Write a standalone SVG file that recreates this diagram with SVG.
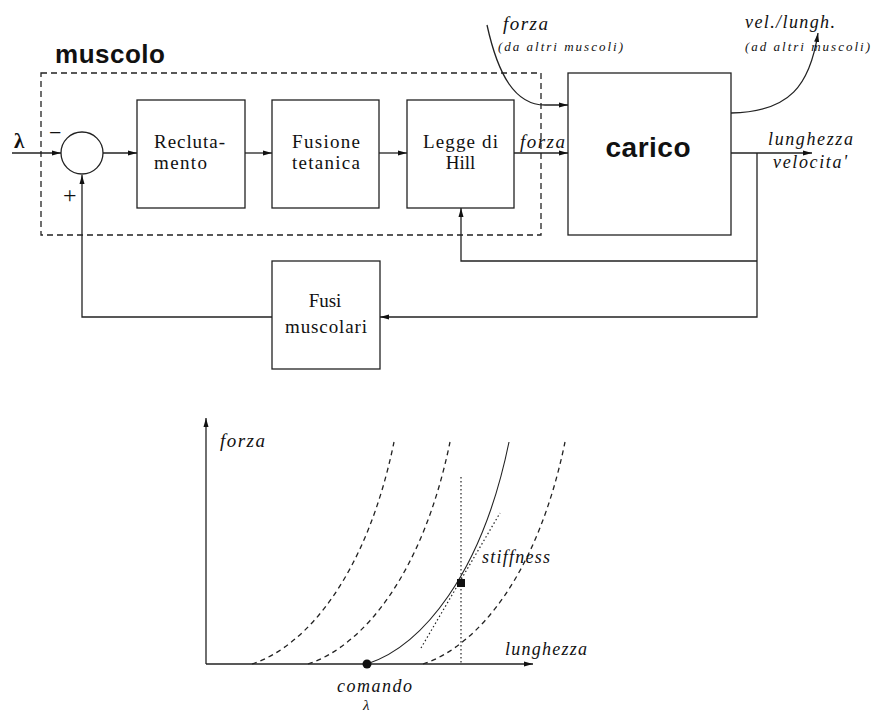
<svg xmlns="http://www.w3.org/2000/svg" width="872" height="715" viewBox="0 0 872 715">
<defs>
<style>
.box{fill:#fff;stroke:#222;stroke-width:1.3}
.ln{fill:none;stroke:#222;stroke-width:1.3}
.dash{fill:none;stroke:#222;stroke-width:1.3;stroke-dasharray:6,4}
.dot{fill:none;stroke:#222;stroke-width:1.2;stroke-dasharray:1.5,2.5}
.lbl{font-family:"Liberation Serif","Times New Roman",serif;font-size:19px;fill:#111}
.it{font-family:"Liberation Serif",serif;font-style:italic;fill:#111}
.bold{font-family:"Liberation Sans",Arial,sans-serif;font-weight:bold;fill:#111}
</style>
<marker id="ah" markerUnits="userSpaceOnUse" markerWidth="10" markerHeight="6" refX="9" refY="3" orient="auto">
<path d="M0,0.5 L9,3 L0,5.5 z" fill="#111"/>
</marker>
<path id="crv" d="M0,0 C55,-18 115,-90 142,-222"/>
</defs>
<rect width="872" height="715" fill="#fff"/>

<g id="muscolo">
<rect x="41" y="73" width="500" height="162" class="dash"/>
<text x="55" y="63" class="bold" font-size="26" textLength="110">muscolo</text>
</g>

<g id="sum">
<circle cx="82" cy="153" r="21" class="box"/>
<text x="49" y="140" class="lbl" style="font-size:22px">−</text>
<text x="63" y="203" class="lbl" style="font-size:24px">+</text>
</g>

<g id="reclutamento">
<rect x="137" y="100" width="108" height="108" class="box"/>
<text x="154" y="148" class="lbl" textLength="71">Recluta-</text>
<text x="154" y="169" class="lbl" textLength="53">mento</text>
</g>

<g id="fusione">
<rect x="272" y="100" width="107" height="108" class="box"/>
<text x="326" y="148" class="lbl" text-anchor="middle" textLength="68">Fusione</text>
<text x="326" y="169" class="lbl" text-anchor="middle" textLength="68">tetanica</text>
</g>

<g id="hill">
<rect x="407" y="100" width="107" height="108" class="box"/>
<text x="460.5" y="148" class="lbl" text-anchor="middle" textLength="75">Legge di</text>
<text x="460.5" y="169" class="lbl" text-anchor="middle">Hill</text>
</g>

<g id="carico">
<rect x="568" y="73" width="163" height="162" class="box"/>
<text x="648" y="157" class="bold" font-size="28" text-anchor="middle" textLength="85">carico</text>
</g>

<g id="fusi">
<rect x="272" y="261" width="108" height="108" class="box"/>
<text x="325" y="307" class="lbl" text-anchor="middle">Fusi</text>
<text x="326" y="333" class="lbl" text-anchor="middle" textLength="82">muscolari</text>
</g>

<g id="connectors">
<path d="M12,153 L61,153" class="ln" marker-end="url(#ah)"/>
<path d="M103,153 L137,153" class="ln" marker-end="url(#ah)"/>
<path d="M245,153 L272,153" class="ln" marker-end="url(#ah)"/>
<path d="M379,153 L407,153" class="ln" marker-end="url(#ah)"/>
<path d="M514,153 L568,153" class="ln" marker-end="url(#ah)"/>
<path d="M487,25 C498,75 515,105 545,105 L568,105" class="ln" marker-end="url(#ah)"/>
<path d="M731,113 C790,112 810,85 818,33" class="ln" marker-end="url(#ah)"/>
<path d="M731,153 L812,153" class="ln" marker-end="url(#ah)"/>
<path d="M757,153 L757,317 L380,317" class="ln" marker-end="url(#ah)"/>
<path d="M757,261 L461,261 L461,208" class="ln" marker-end="url(#ah)"/>
<path d="M272,317 L82,317 L82,175" class="ln" marker-end="url(#ah)"/>
</g>

<g id="labels">
<text x="14" y="148" class="lbl" style="font-size:21px;font-weight:bold">λ</text>
<text x="520" y="148" class="it" font-size="19" textLength="45">forza</text>
<text x="503" y="30" class="it" font-size="19" textLength="45">forza</text>
<text x="498" y="51" class="it" font-size="13" textLength="125">(da altri muscoli)</text>
<text x="745" y="28" class="it" font-size="18" textLength="90">vel./lungh.</text>
<text x="745" y="51" class="it" font-size="13" textLength="125">(ad altri muscoli)</text>
<text x="768" y="145" class="it" font-size="18" textLength="85">lunghezza</text>
<text x="773" y="168" class="it" font-size="18" textLength="74">velocita'</text>
</g>

<g id="graph">
<path d="M206,664 L206,418" class="ln" marker-end="url(#ah)"/>
<path d="M206,664 L533,664" class="ln" marker-end="url(#ah)"/>
<use href="#crv" transform="translate(252,664)" class="dash" style="stroke-dasharray:5,4"/>
<use href="#crv" transform="translate(308,664)" class="dash" style="stroke-dasharray:5,4"/>
<use href="#crv" transform="translate(423,664)" class="dash" style="stroke-dasharray:5,4"/>
<use href="#crv" transform="translate(367,664)" class="ln" style="stroke-width:1.1"/>
<path d="M461,477 L461,664" class="dot"/>
<path d="M421,648 L500,513" class="dot"/>
<rect x="457" y="579" width="8" height="8" fill="#111"/>
<circle cx="367" cy="664" r="4.5" fill="#111"/>
<text x="220" y="447" class="it" font-size="19" textLength="45">forza</text>
<text x="482" y="563" class="it" font-size="18" textLength="68">stiffness</text>
<text x="505" y="655" class="it" font-size="18" textLength="82">lunghezza</text>
<text x="337" y="692" class="it" font-size="18" textLength="75">comando</text>
<text x="363" y="710" class="it" font-size="15">λ</text>
</g>
</svg>
